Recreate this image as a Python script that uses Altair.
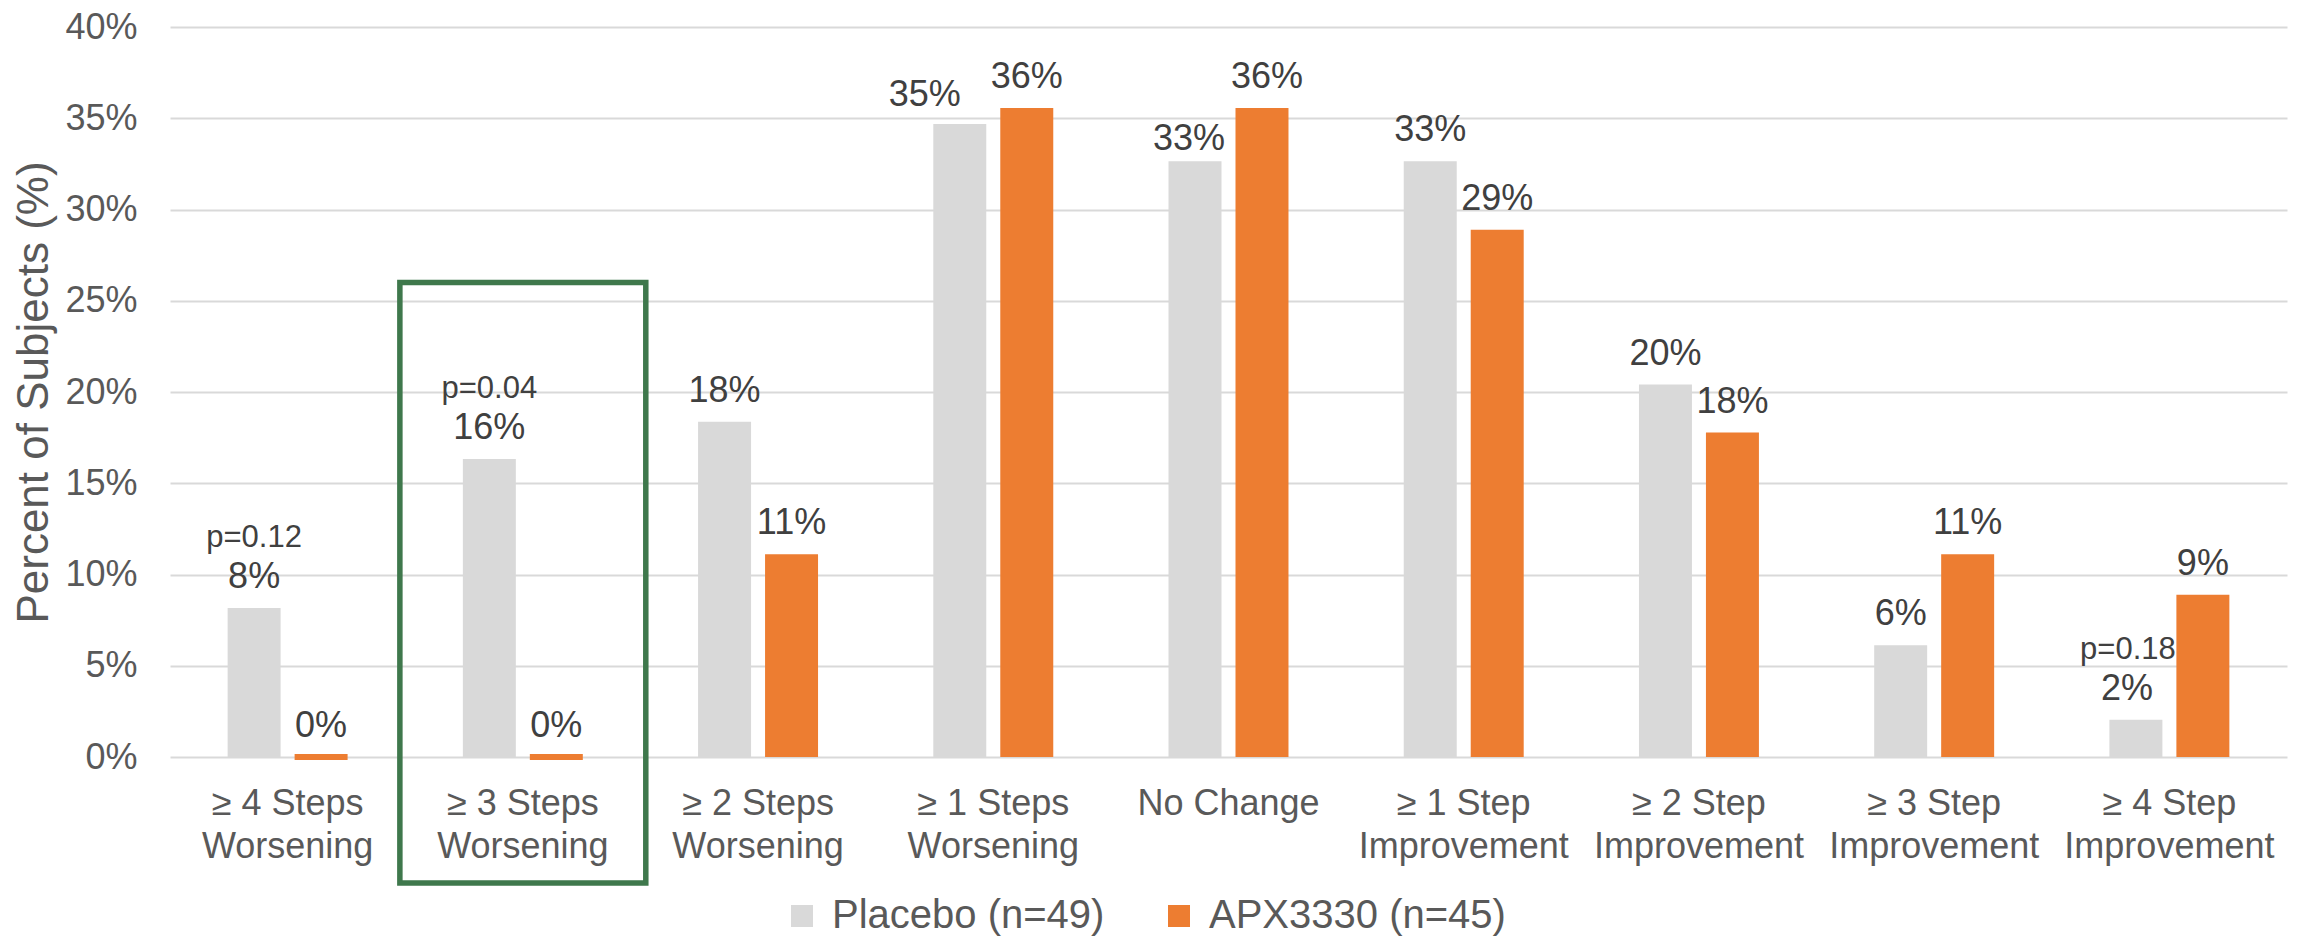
import json

import altair as alt
import pandas as pd

# ---- data -------------------------------------------------------------
categories = [
    "≥ 4 Steps|Worsening",
    "≥ 3 Steps|Worsening",
    "≥ 2 Steps|Worsening",
    "≥ 1 Steps|Worsening",
    "No Change",
    "≥ 1 Step|Improvement",
    "≥ 2 Step|Improvement",
    "≥ 3 Step|Improvement",
    "≥ 4 Step|Improvement",
]
series = ["Placebo (n=49)", "APX3330 (n=45)"]
placebo_pct = [8.16, 16.33, 18.37, 34.69, 32.65, 32.65, 20.41, 6.12, 2.04]
apx_pct = [0.0, 0.0, 11.11, 35.56, 35.56, 28.89, 17.78, 11.11, 8.89]
p_values = ["p=0.12", "p=0.04", "", "", "", "", "", "", "p=0.18"]
y_ticks = [0, 5, 10, 15, 20, 25, 30, 35, 40]

highlight_category = categories[1]
highlight_top = 26

# ---- styling ----------------------------------------------------------
colors = ["#D9D9D9", "#ED7D31"]
label_color = "#404040"
axis_color = "#595959"
box_color = "#3F784C"
FONT = "Liberation Sans"

# label nudges (pixels) where labels were moved apart from neighbours
value_nudge = {
    (categories[3], series[0]): (-35, 2),
    (categories[4], series[0]): (-6, 9),
    (categories[4], series[1]): (5, 0),
    (categories[8], series[0]): (-9, 0),
}
pval_nudge = {categories[8]: -8}

rows = []
for cat, pv, av, pval in zip(categories, placebo_pct, apx_pct, p_values):
    rows.append({"category": cat, "series": series[0], "value": pv, "pval": pval})
    rows.append({"category": cat, "series": series[1], "value": av, "pval": ""})
df = pd.DataFrame(rows)

x_scale = alt.Scale(domain=categories, paddingInner=0.49, paddingOuter=0.245)
x_enc = alt.X(
    "category:N",
    sort=categories,
    scale=x_scale,
    axis=alt.Axis(
        title=None,
        labelAngle=0,
        labelExpr="split(datum.label, '|')",
        labelFontSize=36,
        labelColor=axis_color,
        labelLineHeight=43,
        labelPadding=29,
        labelBaseline="top",
        labelLimit=0,
        ticks=False,
        tickSize=0,
        domain=False,
        grid=False,
    ),
)
x_plain = alt.X("category:N", sort=categories, scale=x_scale)
xoff_enc = alt.XOffset(
    "series:N",
    sort=series,
    scale=alt.Scale(domain=series, paddingInner=0.209, paddingOuter=0),
)
y_enc = alt.Y(
    "value:Q",
    scale=alt.Scale(domain=[0, 40], nice=False),
    axis=alt.Axis(
        title="Percent of Subjects (%)",
        values=y_ticks,
        labelExpr="datum.value + '%'",
        labelFontSize=36,
        labelColor=axis_color,
        labelPadding=33,
        ticks=False,
        tickSize=0,
        domain=False,
        grid=True,
        gridColor="#D9D9D9",
        gridWidth=2,
        titleFontSize=44,
        titleFontWeight="normal",
        titleColor=axis_color,
        titleX=-123,
        titleY=365,
        titleAlign="center",
        titleBaseline="alphabetic",
    ),
)

base = alt.Chart(df).transform_calculate(
    label="format(datum.value, '.0f') + '%'"
)

bars = base.mark_bar().encode(
    x=x_enc,
    xOffset=xoff_enc,
    y=y_enc,
    color=alt.Color(
        "series:N",
        sort=series,
        scale=alt.Scale(domain=series, range=colors),
        legend=alt.Legend(
            title=None,
            orient="none",
            legendX=612,
            legendY=869,
            direction="horizontal",
            symbolType="square",
            symbolSize=484,
            symbolStrokeWidth=0,
            labelFontSize=40,
            labelColor=axis_color,
            labelOffset=10,
            labelLimit=0,
            columnPadding=54,
            padding=0,
        ),
    ),
    stroke=alt.Stroke(
        "series:N", scale=alt.Scale(domain=series, range=colors), legend=None
    ),
    # a zero-height bar is still shown as a thick line on the baseline
    strokeWidth=alt.condition("datum.value === 0", alt.value(6), alt.value(0)),
)


def pair_test(cat, ser):
    return f"(datum.category === {json.dumps(cat)} && datum.series === {json.dumps(ser)})"


nudged_expr = " || ".join(pair_test(c, s) for (c, s) in value_nudge)

text_style = dict(
    baseline="alphabetic", fontSize=36, color=label_color, font=FONT
)
text_enc = dict(x=x_plain, xOffset=xoff_enc, y="value:Q", text="label:N")

labels = (
    base.transform_filter(f"!({nudged_expr})")
    .mark_text(dy=-20, **text_style)
    .encode(**text_enc)
)

nudged_layers = []
for (cat, ser), (dx, dy) in value_nudge.items():
    nudged_layers.append(
        base.transform_filter(pair_test(cat, ser))
        .mark_text(dx=dx, dy=-20 + dy, **text_style)
        .encode(**text_enc)
    )

p_style = dict(baseline="alphabetic", fontSize=31, color=label_color, font=FONT)
p_enc = dict(x=x_plain, xOffset=xoff_enc, y="value:Q", text="pval:N")
p_layers = []
plain_p = " && ".join(
    f"datum.category !== {json.dumps(c)}" for c in pval_nudge
)
p_layers.append(
    base.transform_filter(f"datum.pval !== '' && {plain_p}")
    .mark_text(dy=-61, **p_style)
    .encode(**p_enc)
)
for cat, dx in pval_nudge.items():
    p_layers.append(
        base.transform_filter(
            f"datum.pval !== '' && datum.category === {json.dumps(cat)}"
        )
        .mark_text(dx=dx, dy=-61, **p_style)
        .encode(**p_enc)
    )

# outline around the highlighted group, reaching down past its axis label
box_df = pd.DataFrame({"category": [highlight_category], "top": [highlight_top]})
box = (
    alt.Chart(box_df)
    .mark_rect(
        filled=False,
        stroke=box_color,
        strokeWidth=5.5,
        width={"band": 2.05},
    )
    .encode(
        x=x_plain,
        y="top:Q",
        y2=alt.value(856),
    )
)

chart = (
    alt.layer(bars, labels, *nudged_layers, *p_layers, box)
    .properties(
        width=2117,
        height=730,
        autosize=alt.AutoSizeParams(type="none"),
        padding={"left": 170, "top": 27, "right": 20, "bottom": 179},
        background="white",
    )
    .configure(font=FONT)
    .configure_view(stroke=None)
)

chart.save("out.html", embed_options={"renderer": "svg", "actions": False})
